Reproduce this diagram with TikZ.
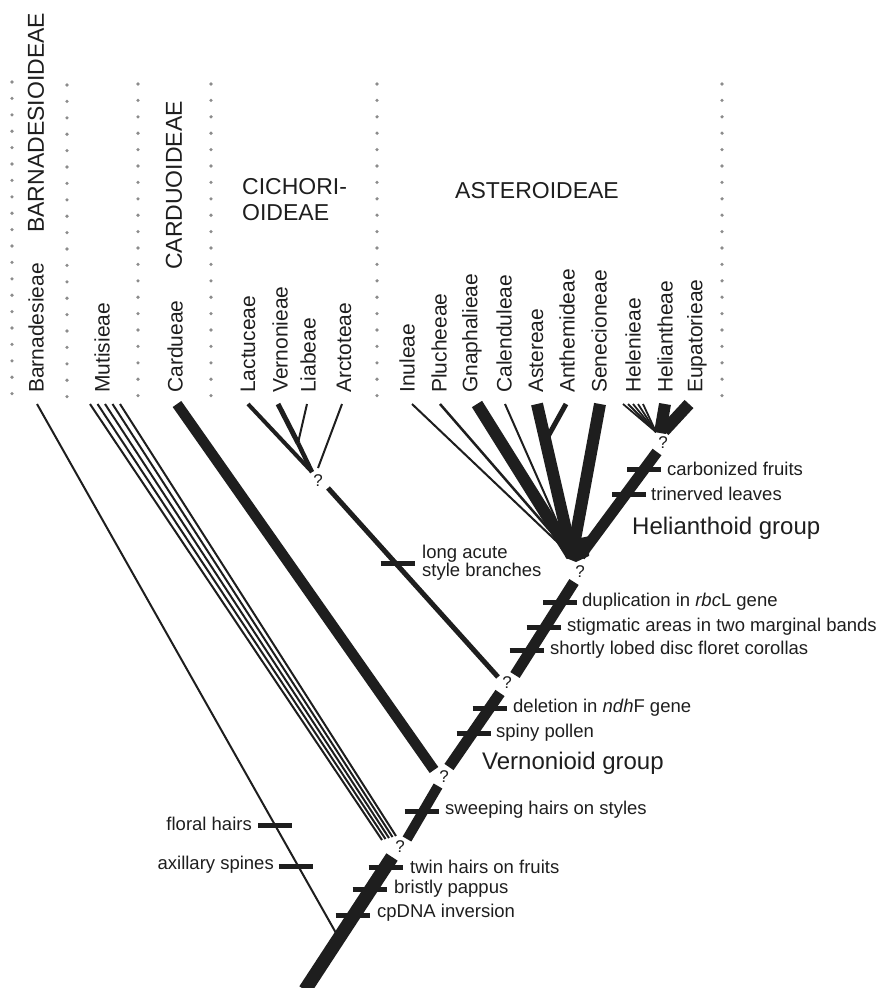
\documentclass[tikz,border=0pt]{standalone}
\usepackage{fontspec}
\setmainfont{Liberation Sans}
\usetikzlibrary{calc}
\definecolor{ink}{HTML}{1E1E1E}
\definecolor{dotc}{HTML}{8C8C8C}
\begin{document}
\begin{tikzpicture}[x=1pt,y=-1pt,
  br/.style={draw=ink, line width=#1, line cap=butt, line join=round},
  br/.default=2,
  tickmark/.style={draw=ink, line width=5},
  tribe/.style={rotate=90, anchor=west, inner sep=0pt, text=ink, font=\fontsize{21}{21}\selectfont},
  grp/.style={inner sep=0pt, text=ink, font=\fontsize{23}{26}\selectfont},
  chr/.style={inner sep=0pt, anchor=west, text=ink, font=\fontsize{18.5}{18}\selectfont},
  chrl/.style={inner sep=0pt, anchor=east, text=ink, font=\fontsize{18.5}{18}\selectfont},
  qm/.style={inner sep=0pt, text=ink, font=\fontsize{17}{17}\selectfont},
  bigl/.style={inner sep=0pt, anchor=west, text=ink, font=\fontsize{24}{24}\selectfont}]
\useasboundingbox (0,0) rectangle (882,988);

% dotted separators
\foreach \xx/\ys in {12/82, 67/85, 138/84, 211/84, 377/84, 722/84}{
  \foreach \i in {0,...,19}{\fill[dotc] (\xx,\ys+16.4*\i) circle (1.8);}
}

% group labels
\node[grp, rotate=90, anchor=west] (gBar) at (36,233) {BARNADESIOIDEAE};
\node[grp, rotate=90, anchor=west] (gCar) at (174,270) {CARDUOIDEAE};
\node[grp, anchor=west, align=left] (gCic) at (242,200) {CICHORI-\\OIDEAE};
\node[grp, anchor=west] (gAst) at (455,191) {ASTEROIDEAE};

% tribe labels
\node[tribe] (lBar) at (36,393) {Barnadesieae};
\node[tribe] (lMut) at (102,393) {Mutisieae};
\node[tribe] (lCar) at (175,393) {Cardueae};
\node[tribe] (lLac) at (248,393) {Lactuceae};
\node[tribe] (lVer) at (280,393) {Vernonieae};
\node[tribe] (lLia) at (308,393) {Liabeae};
\node[tribe] (lArc) at (344,393) {Arctoteae};
\node[tribe] (lInu) at (407,393) {Inuleae};
\node[tribe] (lPlu) at (439,393) {Plucheeae};
\node[tribe] (lGna) at (472,393) {Gnaphalieae};
\node[tribe] (lCal) at (504,393) {Calenduleae};
\node[tribe] (lAst) at (536,393) {Astereae};
\node[tribe] (lAnt) at (567,393) {Anthemideae};
\node[tribe] (lSen) at (599,393) {Senecioneae};
\node[tribe] (lHel) at (633,393) {Helenieae};
\node[tribe] (lHet) at (665,393) {Heliantheae};
\node[tribe] (lEup) at (697,393) {Eupatorieae};

% coordinates
\coordinate (root) at (305,990);
\coordinate (trTop) at (392,857);
\coordinate (tBar) at (37,404);
\coordinate (jBar) at (336,933);
\coordinate (s1a) at (407,839);
\coordinate (s1b) at (438,786);
\coordinate (tCar) at (177,404);
\coordinate (eCar) at (434,770);
\coordinate (s2a) at (449,767);
\coordinate (s2b) at (500,693);
\coordinate (tLac) at (248,404);
\coordinate (tVer) at (278,404);
\coordinate (tLia) at (307,404);
\coordinate (tArc) at (342,404);
\coordinate (jVL) at (298,443);
\coordinate (jCic) at (312,472);
\coordinate (eArc) at (318,468);
\coordinate (cicA) at (328,488);
\coordinate (cicB) at (498,677);
\coordinate (s3a) at (515,675);
\coordinate (s3b) at (574,582);
\coordinate (apex) at (572,556);
\coordinate (jAA) at (546,440);
\coordinate (helA) at (580,556);
\coordinate (helB) at (657,452);
\coordinate (crown) at (660,433);

% trunk and basal branches
\draw[br=13.5] (root) -- (trTop);
\draw[br=2] (tBar) -- (jBar);
\foreach \tx/\ex/\ey in {90/382/840, 97.5/385.5/839, 105/389/838, 112.5/392.5/837, 120/396/836}{
  \draw[br=2] (\tx,404) -- (\ex,\ey);
}
\draw[br=10] (s1a) -- (s1b);
\draw[br=10.5] (tCar) -- (eCar);
\draw[br=11] (s2a) -- (s2b);

% Cichorioideae
\draw[br=4] (tLac) -- (jCic);
\draw[br=5] (tVer) -- (jVL);
\draw[br=2] (tLia) -- (jVL);
\draw[br=4.5] (jVL) -- (jCic);
\draw[br=2] (tArc) -- (eArc);
\draw[br=5] (cicA) -- (cicB);

% Asteroideae
\draw[br=11] (s3a) -- (s3b);
\draw[br=2] (412,404) -- (apex);
\draw[br=2.5] (440,404) -- (apex);
\draw[br=12] (477,404) -- (apex);
\draw[br=2] (505,404) -- (apex);
\draw[br=12] (537,404) -- (apex);
\draw[br=5] (566,404) -- (jAA);
\draw[br=12] (600,404) -- (apex);
\fill[ink] (560,542) -- (590,536) -- (589,556) -- (576,562) -- (566,558) -- cycle;
\draw[br=11] (helA) -- (helB);
\foreach \tx in {623,628,633,638,643}{\draw[br=1.8] (\tx,404) -- (656,432);}
\draw[br=12] (665,404) -- (crown);
\draw[br=12] (689,404) -- (664,431);

% question marks
\node[qm] (q1) at (400,847) {?};
\node[qm] (q2) at (444,777) {?};
\node[qm] (q3) at (507,683) {?};
\node[qm] (q4) at (580,572) {?};
\node[qm] (q5) at (318,481) {?};
\node[qm] (q6) at (663,443) {?};

% character ticks
\foreach \cx/\cy in {352.5/915, 369.5/889, 385.5/867, 275/825, 295.5/866, 421.5/811,
  489.5/708, 473.5/733, 560/602, 543.5/627, 526.5/650, 644/469, 629/494, 397.5/563}{
  \draw[tickmark] (\cx-17,\cy) -- (\cx+17,\cy);
}

% character labels
\node[chr] (c1) at (410,867) {twin hairs on fruits};
\node[chr] (c2) at (394,889) {bristly pappus};
\node[chr] (c3) at (377,913) {cpDNA inversion};
\node[chrl] (c4) at (252,824) {floral hairs};
\node[chrl] (c5) at (274,865) {axillary spines};
\node[chr] (c6) at (445,810) {sweeping hairs on styles};
\node[chr] (c7) at (513,708) {deletion in \textit{ndh}F gene};
\node[chr] (c8) at (496,733) {spiny pollen};
\node[bigl] (gVer) at (482,763) {Vernonioid group};
\node[chr] (c9) at (550,650) {shortly lobed disc floret corollas};
\node[chr] (c10) at (567,627) {stigmatic areas in two marginal bands};
\node[chr] (c11) at (582,602) {duplication in \textit{rbc}L gene};
\node[bigl] (gHel) at (632,528) {Helianthoid group};
\node[chr] (c12) at (651,494) {trinerved leaves};
\node[chr] (c13) at (667,469) {carbonized fruits};
\node[chr, align=left, font=\fontsize{18.5}{18}\selectfont] (c14) at (422,563) {long acute\\style branches};
\end{tikzpicture}
\end{document}
